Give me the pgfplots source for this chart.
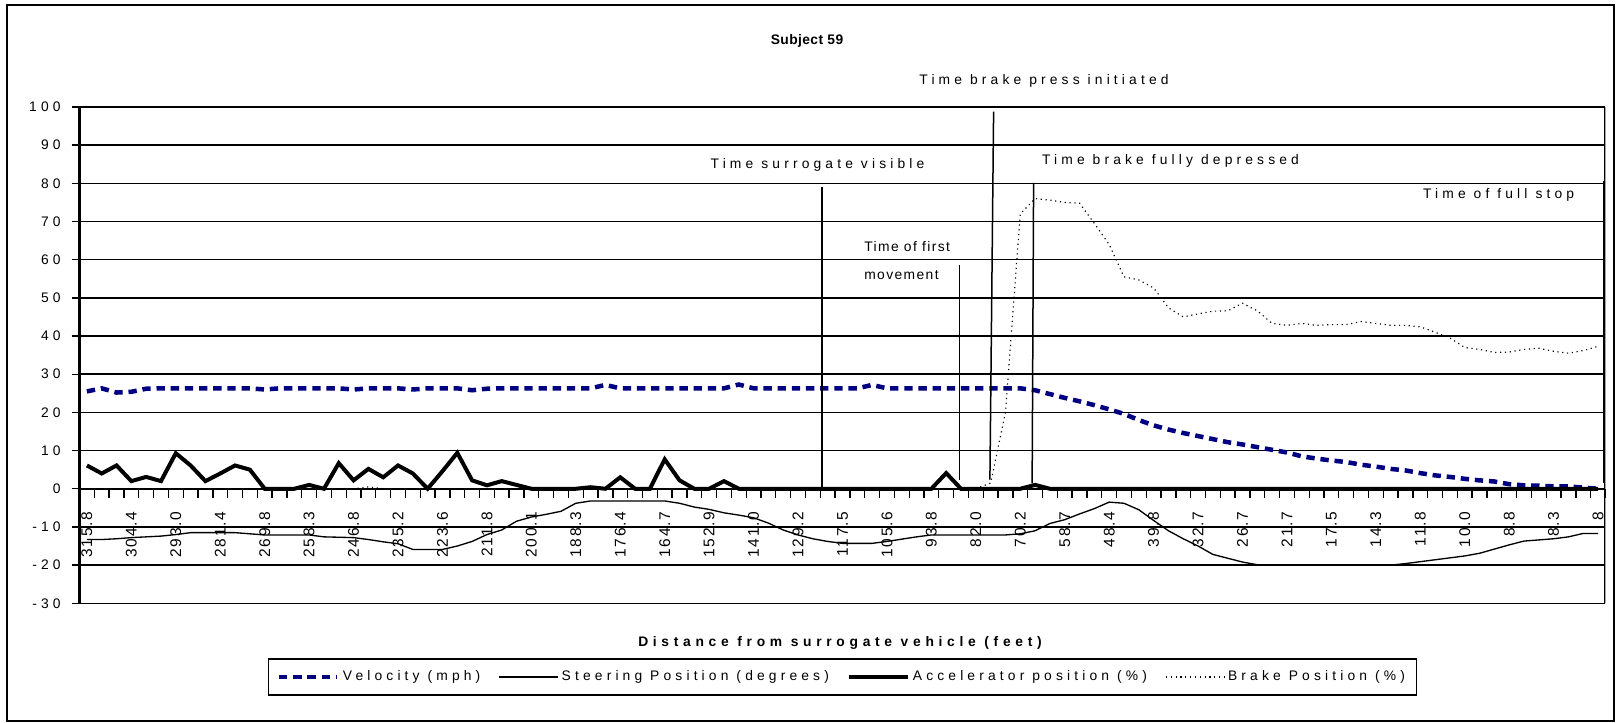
\documentclass[border=0pt]{standalone}
\usepackage{fontspec}
\setmainfont{Liberation Sans}[LetterSpace=30]
\newfontfamily\tightfont{Liberation Sans}[LetterSpace=10]
\newfontfamily\xlfont{Liberation Sans}[LetterSpace=34]
\newfontfamily\titlefont{Liberation Sans}[LetterSpace=3]
\newfontfamily\tickfont{Liberation Sans}[LetterSpace=12]
\usepackage{pgfplots}
\usepackage{pgfplotstable}
\pgfplotsset{compat=1.18}
\newcommand\f{\fontsize{8.3pt}{10pt}\selectfont}
\definecolor{navy}{RGB}{0,0,128}

\pgfplotstableread{
i vel steer acc brake
0 25.5 -13.3 6.1 0
1 26.3 -13.3 4.0 0
2 25.2 -13.1 6.1 0
3 25.4 -12.8 2.0 0
4 26.2 -12.6 3.1 0
5 26.3 -12.4 2.0 0
6 26.3 -12.0 9.3 0
7 26.3 -11.5 6.1 0
8 26.3 -11.5 2.0 0
9 26.3 -11.5 4.0 0
10 26.3 -11.5 6.1 0
11 26.3 -11.8 5.0 0
12 26.0 -12.1 0 0
13 26.3 -12.1 0 0
14 26.3 -12.1 0 0
15 26.3 -12.1 1.0 0
16 26.3 -12.6 0 0
17 26.3 -12.7 6.7 0
18 26.0 -12.8 2.2 0
19 26.3 -13.3 5.2 0.5
20 26.3 -13.9 3.0 0
21 26.3 -14.4 6.1 0
22 26.0 -15.9 4.0 0
23 26.3 -15.9 0 0
24 26.3 -15.9 4.6 0
25 26.3 -15.0 9.4 0
26 25.8 -13.8 2.2 0
27 26.2 -12.0 0.9 0
28 26.3 -10.8 2.0 0
29 26.3 -8.5 1.0 0
30 26.3 -7.4 0 0
31 26.3 -6.7 0 0
32 26.3 -5.9 0 0
33 26.3 -3.8 0 0
34 26.3 -3.2 0.4 0.5
35 27.2 -3.2 0 0
36 26.3 -3.2 3.0 0
37 26.3 -3.2 0 0
38 26.3 -3.2 0 0
39 26.3 -3.2 7.7 0
40 26.3 -3.8 2.2 0
41 26.3 -4.8 0 0
42 26.3 -5.4 0 0
43 26.3 -6.3 2.0 0
44 27.3 -6.9 0 0
45 26.3 -7.6 0 0
46 26.3 -9.0 0 0
47 26.3 -10.8 0 0
48 26.3 -12.1 0 0
49 26.3 -13.1 0 0
50 26.3 -13.8 0 0
51 26.3 -14.3 0 0
52 26.3 -14.3 0 0
53 27.2 -14.3 0 0
54 26.3 -13.8 0 0
55 26.3 -13.2 0 0
56 26.3 -12.6 0 0
57 26.3 -12.1 0 0
58 26.3 -12.1 4.1 0
59 26.3 -12.1 0 0
60 26.3 -12.1 0 0
61 26.3 -12.1 0 1.5
62 26.3 -12.1 0 20
63 26.3 -11.8 0 72
64 25.8 -11.0 1.0 76
65 24.8 -9.1 0 75.6
66 23.8 -8.1 0 75
67 22.9 -6.6 0 74.8
68 21.9 -5.2 0 69.5
69 20.8 -3.5 0 64
70 19.6 -3.8 0 55.5
71 18.0 -5.5 0 54.7
72 16.6 -8.3 0 52.6
73 15.5 -11.0 0 47.4
74 14.6 -13.1 0 45
75 13.8 -15.0 0 45.8
76 13.0 -17.2 0 46.5
77 12.2 -18.2 0 46.6
78 11.6 -19.2 0 48.6
79 10.9 -19.9 0 46.6
80 10.2 -20 0 43.3
81 9.5 -20 0 42.8
82 8.5 -20 0 43.3
83 7.9 -20 0 42.8
84 7.4 -20 0 43.0
85 7.0 -20 0 43.0
86 6.3 -20 0 43.8
87 5.8 -20 0 43.3
88 5.2 -20 0 42.8
89 4.8 -19.6 0 42.8
90 4.1 -19.1 0 42.4
91 3.5 -18.6 0 41.0
92 3.1 -18.1 0 39.5
93 2.6 -17.6 0 37.0
94 2.2 -16.9 0 36.5
95 1.9 -15.8 0 35.7
96 1.2 -14.7 0 35.8
97 0.9 -13.7 0 36.5
98 0.8 -13.4 0 36.8
99 0.6 -13.1 0 36.0
100 0.6 -12.6 0 35.5
101 0.3 -11.7 0 36.2
102 0.0 -11.7 0 37.3
}\data

\begin{document}
\begin{tikzpicture}[x=0.6pt,y=0.6pt]
\useasboundingbox (0,0) rectangle (1616,723);
\draw[line width=1.2pt] (7,2) rectangle (1614,718);
\begin{axis}[
  at={(47.7pt,71.82pt)}, anchor=south west,
  width=915.6pt, height=297.8pt, scale only axis,
  xmin=-0.5, xmax=102.5, ymin=-30, ymax=100,
  axis x line*=middle, axis y line*=left,
  axis line style={black, line width=1.3pt},
  ytick={-30,-20,...,100},
  yticklabels={-30,-20,-10,0,10,20,30,40,50,60,70,80,90,100},
  ymajorgrids, major grid style={black, line width=0.9pt},
  xtick={0,3,...,102},
  xticklabels={315.8,304.4,293.0,281.4,269.8,258.3,246.8,235.2,223.6,211.8,200.1,188.3,176.4,164.7,152.9,141.0,129.2,117.5,105.6,93.8,82.0,70.2,58.7,48.4,39.8,32.7,26.7,21.7,17.5,14.3,11.8,10.0,8.8,8.3,8},
  minor xtick={-0.5,0.5,...,102.5},
  tick align=outside,
  major tick length=4.8pt, minor tick length=5.4pt,
  tick style={black, line width=0.8pt},
  major x tick style={draw=none},
  xticklabel shift=5.4pt,
  xticklabel style={rotate=90, anchor=east, font=\tickfont\fontsize{9.3pt}{11pt}\selectfont},
  yticklabel style={font=\f, xshift=-3pt},
  legend columns=4,
  legend style={at={(0.5,-0.1485)}, anchor=center, draw=black, line width=0.9pt,
    font=\f, inner xsep=5pt, inner ysep=5pt,
    /tikz/every even column/.append style={column sep=9pt}},
  legend image code/.code={\draw[#1] (0pt,0pt) -- (35pt,0pt);},
]
\addplot[navy, line width=2.7pt, dash pattern=on 5pt off 3.5pt] table[x=i,y=vel]{\data};
\addlegendentry{Velocity (mph)}
\addplot[black, line width=0.8pt] table[x=i,y=steer]{\data};
\addlegendentry{Steering Position (degrees)}
\addplot[black, line width=2.4pt] table[x=i,y=acc]{\data};
\addlegendentry{Accelerator position (\%)}
\addplot[black, line width=0.7pt, dash pattern=on 0.7pt off 2.2pt] table[x=i,y=brake]{\data};
\addlegendentry{Brake Position (\%)}
\draw[line width=0.9pt] (axis cs:49.6,0) -- (axis cs:49.6,79.1);
\draw[line width=0.9pt] (axis cs:58.9,2.4) -- (axis cs:58.9,58.5);
\draw[line width=0.9pt] (axis cs:60.95,2.4) -- (axis cs:61.2,98.8);
\draw[line width=0.9pt] (axis cs:63.8,1.4) -- (axis cs:63.9,80.1);
\draw[line width=0.9pt] (axis cs:102.35,1.6) -- (axis cs:102.35,80.5);
\draw[line width=1.2pt] (rel axis cs:1,0) -- (rel axis cs:1,1);
\end{axis}
\node[font=\titlefont\f\bfseries] at (807,681.8) {Subject 59};
\node[font=\f] at (1044,641.6) {Time brake press initiated};
\node[font=\f] at (817.5,558) {Time surrogate visible};
\node[font=\tightfont\f, anchor=west, inner sep=0pt] at (864,476) {Time of first};
\node[font=\tightfont\f, anchor=west, inner sep=0pt] at (864,448) {movement};
\node[font=\f, anchor=west, inner sep=0pt] at (1041.7,562.3) {Time brake fully depressed};
\node[font=\f, anchor=west, inner sep=0pt] at (1422.7,528) {Time of full stop};
\node[font=\xlfont\f\bfseries] at (840,80) {Distance from surrogate vehicle (feet)};
\end{tikzpicture}
\end{document}
